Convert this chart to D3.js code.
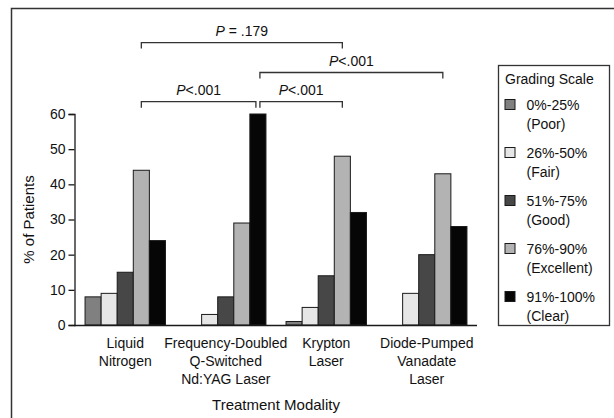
<!DOCTYPE html>
<html>
<head>
<meta charset="utf-8">
<script src="https://cdn.jsdelivr.net/npm/d3@7"></script>
<style>
  body { margin: 0; background: #fff; }
  text { font-family: "Liberation Sans", Arial, sans-serif; fill: #111; }
</style>
</head>
<body>
<script>
var categories = [
  ["Liquid", "Nitrogen"],
  ["Frequency-Doubled", "Q-Switched", "Nd:YAG Laser"],
  ["Krypton", "Laser"],
  ["Diode-Pumped", "Vanadate", "Laser"]
];
var grades = ["0%-25%", "26%-50%", "51%-75%", "76%-90%", "91%-100%"];
var gradeNames = ["(Poor)", "(Fair)", "(Good)", "(Excellent)", "(Clear)"];
var gradeColors = ["#808080", "#e6e6e6", "#474747", "#b3b3b3", "#060606"];

// % of patients, one row per treatment, one value per grade
var values = [
  [8, 9, 15, 44, 24],
  [0, 3, 8, 29, 60],
  [1, 5, 14, 48, 32],
  [0, 9, 20, 43, 28]
];
var yTicks = [0, 10, 20, 30, 40, 50, 60];

// significance brackets: [category, grade] at each end, level in % units
var brackets = [
  {label: ".179", eq: true,  from: [0, 3], to: [2, 3], level: 80.3, nudgeFrom: 0,  nudgeTo: 0},
  {label: ".001", eq: false, from: [1, 4], to: [3, 3], level: 71.8, nudgeFrom: 2,  nudgeTo: 0},
  {label: ".001", eq: false, from: [0, 3], to: [1, 4], level: 63.5, nudgeFrom: 0,  nudgeTo: -2},
  {label: ".001", eq: false, from: [1, 4], to: [2, 3], level: 63.5, nudgeFrom: 2,  nudgeTo: 0}
];

var svg = d3.select("body").
  append("svg").
  attr("width", 614).
  attr("height", 418);

// outer frame (right and bottom sides fall outside the picture)
svg.append("rect")
  .attr("x", 11.5).attr("y", 8.5)
  .attr("width", 700).attr("height", 500)
  .attr("fill", "none").attr("stroke", "#333").attr("stroke-width", 1.5);

var x0 = d3.scaleBand()
  .domain(d3.range(categories.length))
  .range([75, 477])
  .paddingInner(0.2)
  .paddingOuter(0.1);

var x1 = d3.scaleBand()
  .domain(d3.range(grades.length))
  .range([0, x0.bandwidth()]);

var y = d3.scaleLinear().domain([0, 60]).range([325, 114]);

// bars
var groups = svg.selectAll("g.group").data(values).enter().append("g")
  .attr("class", "group")
  .attr("transform", function(d, i) { return "translate(" + x0(i) + ",0)"; });

groups.selectAll("rect").data(function(d) { return d; }).enter().append("rect")
  .attr("x", function(d, j) { return x1(j); })
  .attr("y", function(d) { return y(d); })
  .attr("width", x1.bandwidth())
  .attr("height", function(d) { return y(0) - y(d); })
  .attr("fill", function(d, j) { return gradeColors[j]; })
  .attr("stroke", "#1a1a1a")
  .attr("stroke-width", 1);

// y axis
var yAxis = svg.append("g")
  .attr("transform", "translate(74.5,0)")
  .call(d3.axisLeft(y).tickValues(yTicks).tickSize(6).tickPadding(3));
yAxis.select(".domain").attr("stroke", "#1a1a1a").attr("stroke-width", 1.3);
yAxis.selectAll(".tick line").attr("stroke", "#1a1a1a").attr("stroke-width", 1.3);
yAxis.selectAll(".tick text").attr("font-size", 14)
  .attr("font-family", "Liberation Sans, Arial, sans-serif").attr("fill", "#111");

// x baseline
svg.append("line")
  .attr("x1", 74).attr("x2", 477)
  .attr("y1", y(0) + 0.5).attr("y2", y(0) + 0.5)
  .attr("stroke", "#1a1a1a").attr("stroke-width", 1.3);

// category labels
var catLabels = svg.selectAll("text.cat").data(categories).enter().append("text")
  .attr("class", "cat")
  .attr("text-anchor", "middle")
  .attr("font-size", 14)
  .attr("transform", function(d, i) { return "translate(" + (x0(i) + x0.bandwidth() / 2) + ",348)"; });
catLabels.selectAll("tspan").data(function(d) { return d; }).enter().append("tspan")
  .attr("x", 0)
  .attr("dy", function(d, k) { return k === 0 ? 0 : 18.2; })
  .text(function(d) { return d; });

// axis titles
svg.append("text")
  .attr("x", 276).attr("y", 409.5)
  .attr("text-anchor", "middle").attr("font-size", 15)
  .text("Treatment Modality");

svg.append("text")
  .attr("transform", "translate(33.5,219.5) rotate(-90)")
  .attr("text-anchor", "middle").attr("font-size", 15)
  .text("% of Patients");

// brackets
function endX(end, nudge) {
  return x0(end[0]) + x1(end[1]) + x1.bandwidth() / 2 + nudge;
}
brackets.forEach(function(b) {
  var xa = endX(b.from, b.nudgeFrom), xb = endX(b.to, b.nudgeTo), yy = y(b.level);
  svg.append("path")
    .attr("d", "M" + xa + "," + (yy + 6) + "V" + yy + "H" + xb + "V" + (yy + 6))
    .attr("fill", "none").attr("stroke", "#333").attr("stroke-width", 1.3);
  var t = svg.append("text")
    .attr("x", (xa + xb) / 2).attr("y", yy - 7)
    .attr("text-anchor", "middle").attr("font-size", 14);
  t.append("tspan").attr("font-style", "italic").text("P");
  t.append("tspan").text(b.eq ? " = " + b.label : "<" + b.label);
});

// legend
var legend = svg.append("g");
legend.append("rect")
  .attr("x", 498.5).attr("y", 65.5).attr("width", 111).attr("height", 260)
  .attr("fill", "#fff").attr("stroke", "#333").attr("stroke-width", 1.3);
legend.append("text")
  .attr("x", 505).attr("y", 84).attr("font-size", 14)
  .text("Grading Scale");

var items = legend.selectAll("g.item").data(grades).enter().append("g")
  .attr("class", "item")
  .attr("transform", function(d, i) { return "translate(505," + (99.5 + i * 48) + ")"; });
items.append("rect")
  .attr("width", 10).attr("height", 10)
  .attr("fill", function(d, i) { return gradeColors[i]; })
  .attr("stroke", "#1a1a1a").attr("stroke-width", 1);
items.append("text")
  .attr("x", 21.5).attr("y", 10.5).attr("font-size", 14)
  .text(function(d) { return d; });
items.append("text")
  .attr("x", 21.5).attr("y", 29).attr("font-size", 14)
  .text(function(d, i) { return gradeNames[i]; });
</script>
</body>
</html>
